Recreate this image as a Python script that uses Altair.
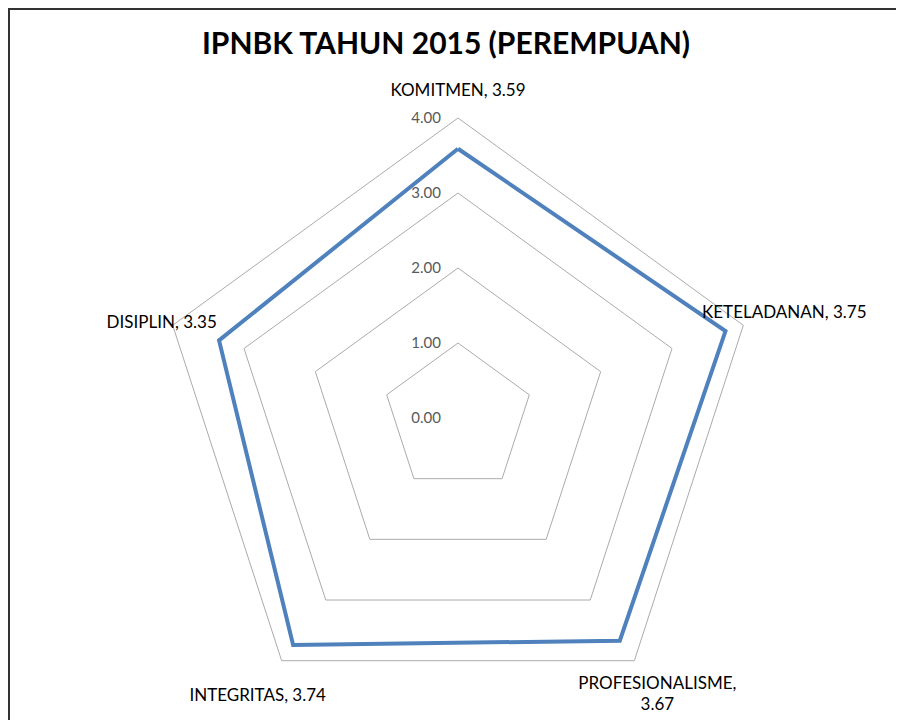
import altair as alt
import numpy as np
import pandas as pd

# ---- data ----
categories = ["KOMITMEN", "KETELADANAN", "PROFESIONALISME", "INTEGRITAS", "DISIPLIN"]
values = [3.59, 3.75, 3.67, 3.74, 3.35]
ticks = [0.0, 1.0, 2.0, 3.0, 4.0]
title_text = "IPNBK TAHUN 2015 (PEREMPUAN)"

# ---- styling (not data) ----
W, H = 888, 712
CX, CY = 450, 410          # centre of the radar in view pixels
UNIT = 75                  # pixels per 1.00
FONT = "Lato"
LINE_COLOR = "#4F81BD"
GRID_COLOR = "#ABABAB"
LABEL_OFFSETS = {          # (dx, dy) in pixels from the outer vertex
    "KOMITMEN": (0, -27),
    "KETELADANAN": (41, -12),
    "PROFESIONALISME": (23, 23),
    "INTEGRITAS": (-24, 35),
    "DISIPLIN": (-11, -2),
}
WRAP = {"PROFESIONALISME"}

n = len(categories)
angles = np.arange(n) * 2 * np.pi / n

# series polygon (closed)
ser = pd.DataFrame({
    "cat": categories + [categories[0]],
    "v": values + [values[0]],
    "ang": list(angles) + [angles[0]],
})
ser["order"] = range(len(ser))
ser["x"] = ser["v"] * np.sin(ser["ang"])
ser["y"] = ser["v"] * np.cos(ser["ang"])

# grid rings
rows = []
for t in ticks[1:]:
    for i in range(n + 1):
        a = angles[i % n]
        rows.append({"ring": t, "order": i, "x": t * np.sin(a), "y": t * np.cos(a)})
rings = pd.DataFrame(rows)

# tick labels
tk = pd.DataFrame({"t": ticks, "lab": [f"{t:.2f}" for t in ticks]})

# category labels at outer ring vertex
rmax = max(ticks)
labs = pd.DataFrame({
    "cat": categories,
    "x": [rmax * np.sin(a) for a in angles],
    "y": [rmax * np.cos(a) for a in angles],
    "lab": [f"{c},\n{v:.2f}" if c in WRAP else f"{c}, {v:.2f}" for c, v in zip(categories, values)],
})

xs = alt.Scale(domain=[-CX / UNIT, (W - CX) / UNIT], nice=False, zero=False)
ys = alt.Scale(domain=[-(H - CY) / UNIT, CY / UNIT], nice=False, zero=False)

grid = alt.Chart(rings).mark_line(color=GRID_COLOR, strokeWidth=1).encode(
    x=alt.X("x:Q", scale=xs, axis=None),
    y=alt.Y("y:Q", scale=ys, axis=None),
    detail="ring:N",
    order="order:Q",
)

line = alt.Chart(ser).mark_line(color=LINE_COLOR, strokeWidth=4, strokeJoin="miter").encode(
    x=alt.X("x:Q", scale=xs, axis=None),
    y=alt.Y("y:Q", scale=ys, axis=None),
    order="order:Q",
)

tick_text = alt.Chart(tk).mark_text(
    align="right", baseline="middle", dx=-17, font=FONT, fontSize=15, color="#595959"
).encode(
    x=alt.X("zero:Q", scale=xs, axis=None),
    y=alt.Y("t:Q", scale=ys, axis=None),
    text="lab:N",
).transform_calculate(zero="0")

label_layers = []
for c in categories:
    dx, dy = LABEL_OFFSETS[c]
    label_layers.append(
        alt.Chart(labs).transform_filter(alt.datum.cat == c).mark_text(
            align="center", baseline="middle", dx=dx, dy=dy, font=FONT, fontSize=17,
            color="#000000", lineBreak="\n", lineHeight=21,
        ).encode(
            x=alt.X("x:Q", scale=xs, axis=None),
            y=alt.Y("y:Q", scale=ys, axis=None),
            text="lab:N",
        )
    )

title = alt.Chart(pd.DataFrame({"t": [title_text]})).mark_text(
    align="center", baseline="middle", font=FONT, fontSize=30, fontWeight="bold", color="#000000"
).encode(x=alt.value(438), y=alt.value(37), text="t:N")

border_top = alt.Chart(pd.DataFrame({"a": [0]})).mark_rule(color="#333333", strokeWidth=2).encode(
    x=alt.value(0), x2=alt.value(W), y=alt.value(1)
)
border_left = alt.Chart(pd.DataFrame({"a": [0]})).mark_rule(color="#333333", strokeWidth=2).encode(
    x=alt.value(1), y=alt.value(0), y2=alt.value(H)
)

chart = alt.layer(grid, line, tick_text, *label_layers, title, border_top, border_left).properties(
    width=W, height=H, padding=0, autosize=alt.AutoSizeParams(type="none")
).configure_view(stroke=None).configure(background="white")

chart.save("out.html", embed_options={"renderer": "svg", "actions": False})
